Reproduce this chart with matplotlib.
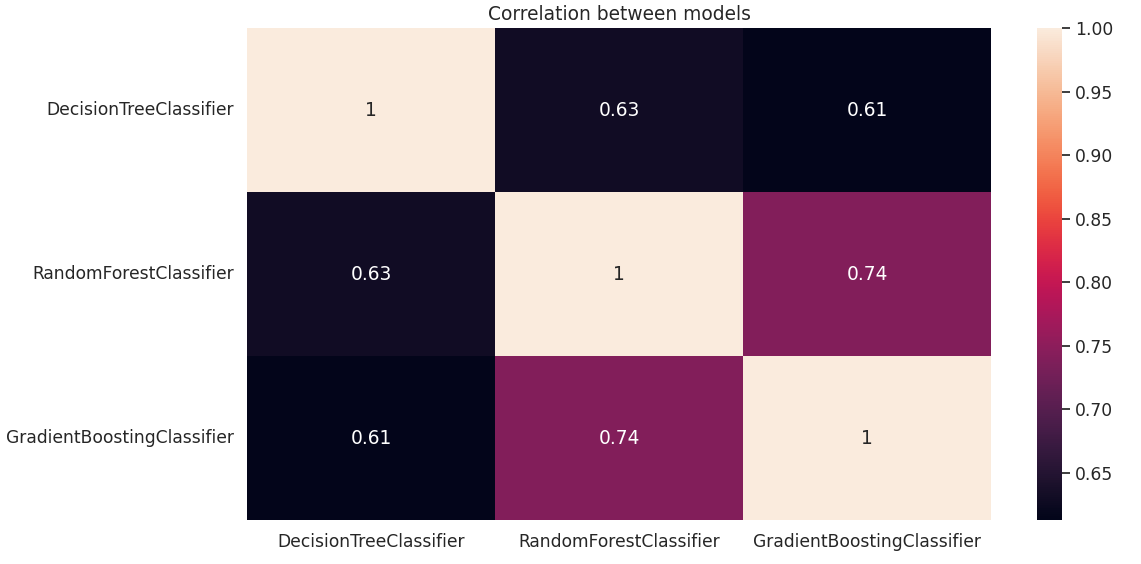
import numpy as np
import pandas as pd
import matplotlib
matplotlib.use("Agg")
import matplotlib.pyplot as plt
import seaborn as sns

models = ["DecisionTreeClassifier", "RandomForestClassifier", "GradientBoostingClassifier"]
corr_values = [
    [1.0, 0.63, 0.613],
    [0.63, 1.0, 0.74],
    [0.613, 0.74, 1.0],
]

sns.set_theme(font_scale=1.12)
corr = pd.DataFrame(corr_values, index=models, columns=models)

W, H = 1141, 564
fig = plt.figure(figsize=(W / 100, H / 100), dpi=100)
# heatmap and colorbar placed to match the reference layout (pixel boxes)
ax = fig.add_axes([247 / W, 1 - 520 / H, (991 - 247) / W, (520 - 28) / H])
cax = fig.add_axes([1037 / W, 1 - 520 / H, 25 / W, (520 - 28) / H])
sns.heatmap(corr, annot=True, ax=ax, cbar_ax=cax)
ax.set_title("Correlation between models")
fig.savefig("out.png", dpi=100)
